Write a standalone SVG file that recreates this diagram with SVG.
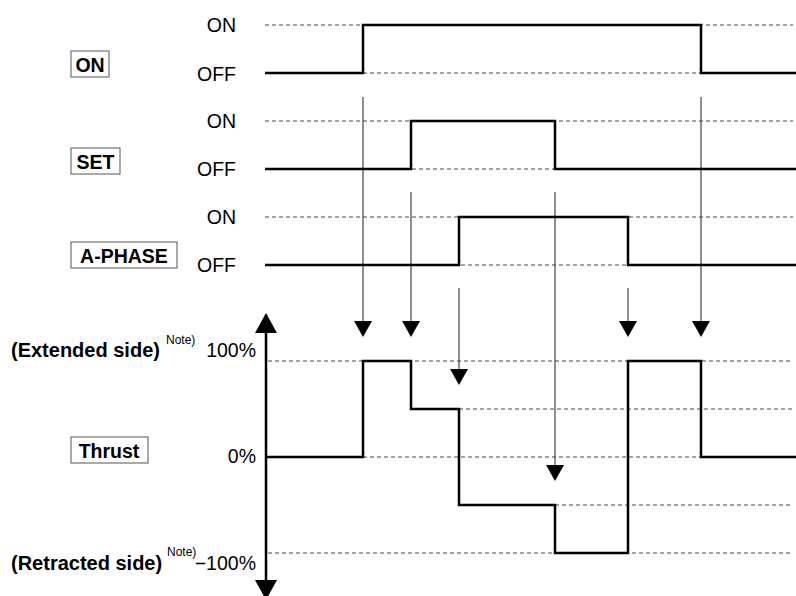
<svg xmlns="http://www.w3.org/2000/svg" width="796" height="596" viewBox="0 0 796 596">
<style>
text { font-family: "Liberation Sans", Arial, Helvetica, sans-serif; fill: #000; }
.lbl { font-size: 19.5px; }
.r { text-anchor: end; }
.b { font-weight: bold; font-size: 19.5px; }
.side { font-weight: bold; font-size: 20px; }
.c { text-anchor: middle; }
.note { font-size: 12px; }
.box { fill: #fff; stroke: #555; stroke-width: 1; }
.dash { stroke: #444; stroke-width: 1; stroke-dasharray: 4 3; fill: none; }
.wave { stroke: #000; stroke-width: 2.5; fill: none; stroke-linejoin: miter; }
.arr { stroke: #444; stroke-width: 1.2; fill: none; }
.head { fill: #000; }
</style>
<rect width="796" height="596" fill="#fff"/>
<g id="grid">
<line class="dash" x1="265" y1="25" x2="793" y2="25"/>
<line class="dash" x1="265" y1="73" x2="793" y2="73"/>
<line class="dash" x1="265" y1="121" x2="793" y2="121"/>
<line class="dash" x1="265" y1="169" x2="793" y2="169"/>
<line class="dash" x1="265" y1="217" x2="793" y2="217"/>
<line class="dash" x1="265" y1="265" x2="793" y2="265"/>
<line class="dash" x1="268" y1="361" x2="793" y2="361"/>
<line class="dash" x1="459" y1="409" x2="793" y2="409"/>
<line class="dash" x1="363" y1="457" x2="701" y2="457"/>
<line class="dash" x1="555" y1="505" x2="793" y2="505"/>
<line class="dash" x1="268" y1="553" x2="793" y2="553"/>
</g>
<g id="connectors">
<line class="arr" x1="363" y1="97" x2="363" y2="322"/>
<line class="arr" x1="411" y1="192" x2="411" y2="322"/>
<line class="arr" x1="459" y1="288" x2="459" y2="370"/>
<line class="arr" x1="555" y1="192" x2="555" y2="466"/>
<line class="arr" x1="628" y1="288" x2="628" y2="322"/>
<line class="arr" x1="701" y1="97" x2="701" y2="322"/>
<polygon class="head" points="354,321 372,321 363,337"/>
<polygon class="head" points="402,321 420,321 411,337"/>
<polygon class="head" points="450,369 468,369 459,385"/>
<polygon class="head" points="546,465 564,465 555,481"/>
<polygon class="head" points="619,321 637,321 628,337"/>
<polygon class="head" points="692,321 710,321 701,337"/>
</g>
<g id="signal-on">
<rect class="box" x="71" y="51" width="38" height="26"/>
<text class="b c" x="90" y="71.5">ON</text>
<text class="lbl r" x="236" y="32">ON</text>
<text class="lbl r" x="236" y="81">OFF</text>
<polyline class="wave" points="265,73 363,73 363,25 701,25 701,73 796,73"/>
</g>
<g id="signal-set">
<rect class="box" x="71" y="148" width="49" height="26"/>
<text class="b c" x="95.5" y="168.5">SET</text>
<text class="lbl r" x="236" y="128">ON</text>
<text class="lbl r" x="236" y="176">OFF</text>
<polyline class="wave" points="265,169 411,169 411,121 555,121 555,169 796,169"/>
</g>
<g id="signal-aphase">
<rect class="box" x="71" y="242" width="106" height="26"/>
<text class="b c" x="124" y="262.5">A-PHASE</text>
<text class="lbl r" x="236" y="224">ON</text>
<text class="lbl r" x="236" y="272">OFF</text>
<polyline class="wave" points="265,265 459,265 459,217 628,217 628,265 796,265"/>
</g>
<g id="thrust">
<rect class="box" x="71" y="437" width="77" height="26"/>
<text class="b c" x="109" y="457.5">Thrust</text>
<text class="side" x="11" y="357">(Extended side)</text>
<text class="note" x="166" y="344">Note)</text>
<text class="lbl r" x="256" y="357">100%</text>
<text class="lbl r" x="256" y="463">0%</text>
<text class="side" x="11" y="570">(Retracted side)</text>
<text class="note" x="167" y="556">Note)</text>
<text class="lbl r" x="256" y="570">−100%</text>
<line x1="266" y1="330" x2="266" y2="583" stroke="#000" stroke-width="2.5"/>
<polygon class="head" points="255,333 277,333 266,313"/>
<polygon class="head" points="255,580 277,580 266,600"/>
<polyline class="wave" points="267,457 363,457 363,361 411,361 411,409 459,409 459,505 555,505 555,553 628,553 628,361 701,361 701,457 796,457"/>
</g>
</svg>
